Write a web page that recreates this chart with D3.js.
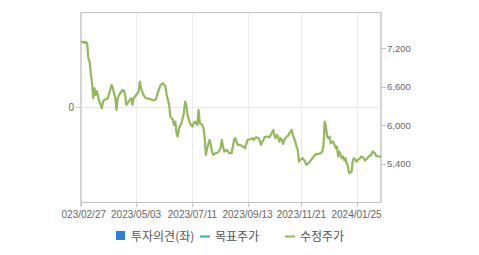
<!DOCTYPE html>
<html>
<head>
<meta charset="utf-8">
<script src="https://cdn.jsdelivr.net/npm/d3@7"></script>
<style>
  body { margin: 0; background: #fff; }
  svg { display: block; }
</style>
</head>
<body>
<div id="chart"></div>
<script>
(function() {
    var width = 479,
        height = 255;

    // trading-day index of each reading, and the adjusted price (수정주가)
    var priceDays = [0, 2, 3, 4, 5, 6, 7, 8, 9, 10, 11, 12, 13, 14, 15, 17, 18, 19, 22, 23,
        25, 26, 27, 28, 29, 30, 31, 32, 34, 35, 36, 37, 39, 41, 42, 43, 45, 47, 48, 49,
        51, 53, 56, 59, 61, 63, 65, 67, 69, 70, 72, 73, 75, 76, 77, 78, 79, 80, 82, 84,
        85, 86, 87, 89, 91, 92, 93, 95, 96, 97, 99, 100, 101, 102, 103, 105, 106, 107, 108, 110,
        112, 114, 115, 116, 117, 119, 121, 123, 125, 126, 128, 130, 132, 134, 136, 138, 140, 141, 143, 145,
        146, 147, 149, 150, 152, 154, 155, 157, 158, 159, 160, 161, 162, 163, 164, 165, 166, 168, 169, 171,
        172, 173, 175, 176, 177, 178, 179, 181, 183, 184, 186, 188, 189, 191, 193, 194, 196, 197, 198, 199,
        200, 201, 202, 203, 204, 206, 207, 208, 209, 210, 211, 212, 213, 214, 215, 216, 217, 218, 219, 220,
        221, 222, 223, 225, 226, 228, 229, 231, 232, 234, 235, 237, 238, 240, 241, 243, 245]
    var prices = [7300, 7300, 7280, 7300, 7278, 7044, 6991, 6810, 6654, 6420, 6576, 6470, 6530, 6445, 6367, 6264, 6367, 6393, 6420, 6498,
        6627, 6576, 6500, 6420, 6237, 6420, 6470, 6498, 6550, 6540, 6470, 6316, 6367, 6420, 6316, 6420, 6470, 6520, 6680, 6576,
        6470, 6420, 6410, 6385, 6400, 6520, 6627, 6654, 6600, 6470, 6316, 6133, 6083, 6004, 6055, 5874, 5822, 5952, 6030, 6186,
        6367, 6316, 6160, 6030, 5978, 6030, 6055, 6004, 6237, 6030, 6004, 5952, 5796, 5536, 5640, 5770, 5692, 5588, 5536, 5562,
        5572, 5640, 5770, 5666, 5588, 5614, 5562, 5562, 5770, 5796, 5692, 5692, 5666, 5640, 5770, 5780, 5796, 5770, 5812, 5796,
        5760, 5692, 5770, 5812, 5822, 5812, 5848, 5926, 5832, 5796, 5848, 5822, 5744, 5796, 5770, 5708, 5770, 5822, 5832, 5900,
        5926, 5848, 5744, 5666, 5614, 5431, 5458, 5484, 5431, 5380, 5406, 5458, 5484, 5536, 5551, 5551, 5562, 5588, 5666, 6055,
        5978, 5822, 5796, 5822, 5718, 5744, 5692, 5640, 5666, 5510, 5588, 5536, 5484, 5510, 5448, 5484, 5406, 5354, 5250, 5260,
        5276, 5458, 5484, 5431, 5458, 5484, 5510, 5484, 5448, 5484, 5510, 5536, 5588, 5562, 5520, 5510, 5510]

    var tickDays = [0, 45, 91, 136, 180, 225]
    var tickLabels = ["2023/02/27", "2023/05/03", "2023/07/11", "2023/09/13", "2023/11/21", "2024/01/25"]
    var priceTicks = [5400, 6000, 6600, 7200]
    var opinionTicks = [0]

    var legendNames = ["투자의견(좌)", "목표주가", "수정주가"]
    var legendColors = ["#2f7ed8", "#3aa7c4", "#94b85a"]

    var left = 81, right = 381, top = 12, bottom = 202

    var svg = d3.select("#chart")
        .append("svg")
        .attr("width", width)
        .attr("height", height)

    var x = d3.scaleLinear().domain([0, 245]).range([left, right])
    var yPrice = d3.scaleLinear().domain([4800, 7766]).range([bottom, top])
    var yOpinion = d3.scaleLinear().domain([-1, 1]).range([bottom + 1, top - 1])

    // grid
    svg.append("g")
        .selectAll("line")
        .data(tickDays)
        .enter().append("line")
        .attr("x1", function(d) { return Math.round(x(d)) + 0.5 })
        .attr("x2", function(d) { return Math.round(x(d)) + 0.5 })
        .attr("y1", top)
        .attr("y2", bottom)
        .attr("stroke", "#ececec")

    svg.append("g")
        .selectAll("line")
        .data(opinionTicks)
        .enter().append("line")
        .attr("x1", left)
        .attr("x2", right)
        .attr("y1", function(d) { return Math.round(yOpinion(d)) + 0.5 })
        .attr("y2", function(d) { return Math.round(yOpinion(d)) + 0.5 })
        .attr("stroke", "#e6e6e6")

    // frame
    svg.append("line").attr("x1", left).attr("x2", right).attr("y1", top + 0.5).attr("y2", top + 0.5).attr("stroke", "#c4c4c4")
    svg.append("line").attr("x1", left).attr("x2", right).attr("y1", bottom + 0.5).attr("y2", bottom + 0.5).attr("stroke", "#c4c4c4")
    svg.append("line").attr("x1", left).attr("x2", left).attr("y1", top).attr("y2", bottom + 4).attr("stroke", "#d4d4d4").attr("stroke-width", 2)
    svg.append("line").attr("x1", right).attr("x2", right).attr("y1", top).attr("y2", bottom + 1).attr("stroke", "#d4d4d4").attr("stroke-width", 2)

    // bottom axis (first label is cut by the chart container)
    svg.append("clipPath").attr("id", "xclip")
        .append("rect").attr("x", 61.5).attr("y", 0).attr("width", 420).attr("height", height)

    var xAxis = svg.append("g").attr("clip-path", "url(#xclip)")
    xAxis.selectAll("line")
        .data(tickDays)
        .enter().append("line")
        .attr("x1", function(d) { return Math.round(x(d)) + 0.5 })
        .attr("x2", function(d) { return Math.round(x(d)) + 0.5 })
        .attr("y1", bottom)
        .attr("y2", bottom + 5)
        .attr("stroke", "#c4c4c4")
    xAxis.selectAll("text")
        .data(tickDays)
        .enter().append("text")
        .attr("x", function(d) { return x(d) })
        .attr("y", bottom + 16)
        .attr("text-anchor", "middle")
        .attr("font-family", "Liberation Sans, Arial, sans-serif")
        .attr("font-size", 10)
        .attr("fill", "#666")
        .text(function(d, i) { return tickLabels[i] })

    // right axis
    var rAxis = svg.append("g")
    rAxis.selectAll("line")
        .data(priceTicks)
        .enter().append("line")
        .attr("x1", right)
        .attr("x2", right + 5)
        .attr("y1", function(d) { return Math.round(yPrice(d)) + 0.5 })
        .attr("y2", function(d) { return Math.round(yPrice(d)) + 0.5 })
        .attr("stroke", "#c4c4c4")
    rAxis.selectAll("text")
        .data(priceTicks)
        .enter().append("text")
        .attr("x", right + 6)
        .attr("y", function(d) { return yPrice(d) + 3.5 })
        .attr("font-family", "Liberation Sans, Arial, sans-serif")
        .attr("font-size", 9.5)
        .attr("fill", "#666")
        .text(function(d) { return d3.format(",")(d) })

    // left axis
    var lAxis = svg.append("g")
    lAxis.selectAll("line")
        .data(opinionTicks)
        .enter().append("line")
        .attr("x1", left - 5)
        .attr("x2", left)
        .attr("y1", function(d) { return Math.round(yOpinion(d)) + 0.5 })
        .attr("y2", function(d) { return Math.round(yOpinion(d)) + 0.5 })
        .attr("stroke", "#d4d4d4")
    lAxis.selectAll("text")
        .data(opinionTicks)
        .enter().append("text")
        .attr("x", left - 7)
        .attr("y", function(d) { return yOpinion(d) + 3.5 })
        .attr("text-anchor", "end")
        .attr("font-family", "Liberation Sans, Arial, sans-serif")
        .attr("font-size", 10)
        .attr("fill", "#666")
        .text(function(d) { return d })

    // price line
    var line = d3.line()
        .x(function(d, i) { return x(priceDays[i]) })
        .y(function(d) { return yPrice(d) })

    svg.append("path")
        .datum(prices)
        .attr("d", line)
        .attr("fill", "none")
        .attr("stroke", legendColors[2])
        .attr("stroke-width", 2.2)
        .attr("stroke-linejoin", "round")

    // legend
    var legendX = [116, 200, 285]
    var legend = svg.append("g")
    legendNames.forEach(function(name, i) {
        var g = legend.append("g").attr("transform", "translate(" + legendX[i] + ",236)")
        if (i == 0) {
            g.append("rect").attr("x", 0).attr("y", -5).attr("width", 9).attr("height", 9).attr("fill", legendColors[i])
        } else {
            g.append("line").attr("x1", 0).attr("x2", 10).attr("y1", 0.5).attr("y2", 0.5)
                .attr("stroke", legendColors[i]).attr("stroke-width", 2)
        }
        g.append("text")
            .attr("x", 15)
            .attr("y", 4.5)
            .attr("font-family", "Noto Sans CJK KR, sans-serif")
            .attr("font-size", 12)
            .attr("fill", "#555")
            .text(name)
    })
})();
</script>
</body>
</html>
